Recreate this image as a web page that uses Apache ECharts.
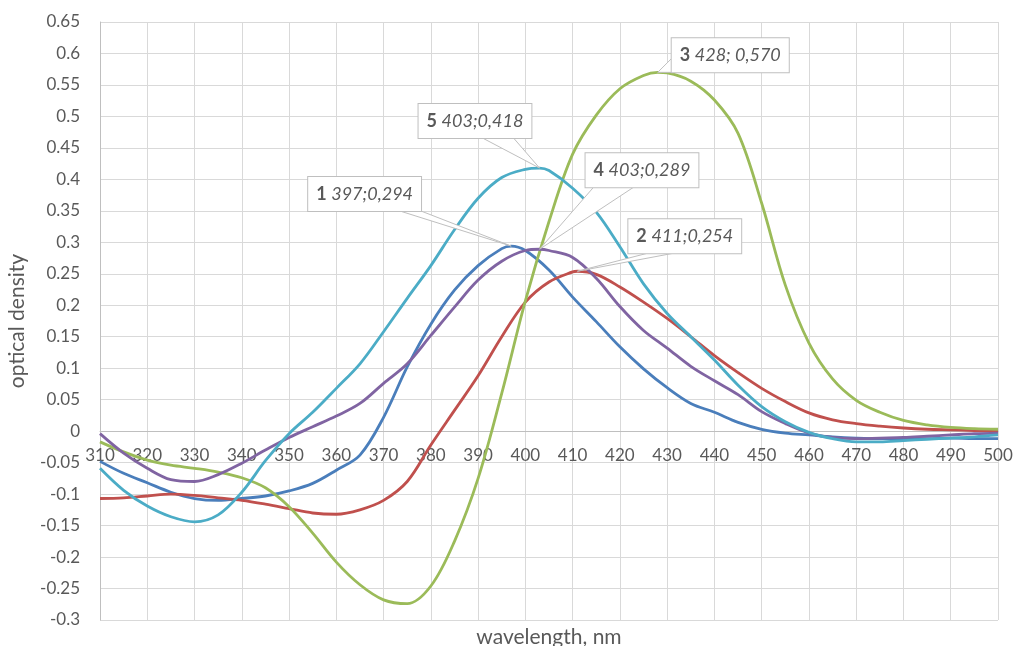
<!DOCTYPE html>
<html>
<head>
<meta charset="utf-8">
<script src="https://cdn.jsdelivr.net/npm/echarts@6/dist/echarts.min.js"></script>
<style>
  html, body { margin: 0; padding: 0; background: #fff; }
  #chart { width: 1013px; height: 646px; }
</style>
</head>
<body>
<div id="chart"></div>
<script>
// Wavelength grid (nm) shared by all spectra
const wavelengths = [310,315,320,325,330,335,340,345,350,355,360,365,370,375,380,385,390,395,400,405,410,415,420,425,430,435,440,445,450,455,460,465,470,475,480,485,490,495,500];

// Optical density spectra, one value per wavelength above
const spectrum1 = [-0.048,-0.067,-0.082,-0.097,-0.107,-0.110,-0.107,-0.103,-0.095,-0.083,-0.062,-0.038,0.022,0.102,0.170,0.224,0.263,0.290,0.287,0.256,0.213,0.174,0.134,0.099,0.069,0.044,0.030,0.014,0.003,-0.003,-0.006,-0.009,-0.011,-0.012,-0.012,-0.012,-0.011,-0.012,-0.012];
const spectrum2 = [-0.107,-0.106,-0.103,-0.100,-0.102,-0.106,-0.110,-0.116,-0.123,-0.130,-0.132,-0.125,-0.110,-0.080,-0.022,0.033,0.088,0.150,0.205,0.237,0.253,0.249,0.229,0.205,0.179,0.150,0.120,0.093,0.068,0.047,0.029,0.018,0.012,0.008,0.005,0.003,0.002,0.001,0.000];
const spectrum3 = [-0.017,-0.033,-0.046,-0.054,-0.059,-0.065,-0.074,-0.090,-0.120,-0.162,-0.208,-0.244,-0.268,-0.274,-0.246,-0.175,-0.075,0.060,0.207,0.333,0.440,0.502,0.544,0.565,0.569,0.556,0.526,0.473,0.362,0.232,0.140,0.083,0.049,0.030,0.017,0.010,0.006,0.004,0.003];
const spectrum4 = [-0.004,-0.035,-0.059,-0.077,-0.080,-0.069,-0.051,-0.030,-0.010,0.007,0.024,0.044,0.076,0.107,0.152,0.197,0.240,0.270,0.287,0.287,0.276,0.243,0.198,0.160,0.132,0.103,0.080,0.058,0.031,0.012,-0.003,-0.010,-0.012,-0.011,-0.010,-0.008,-0.006,-0.004,-0.003];
const spectrum5 = [-0.059,-0.094,-0.119,-0.136,-0.144,-0.133,-0.097,-0.047,-0.004,0.030,0.068,0.107,0.158,0.211,0.263,0.320,0.370,0.403,0.416,0.414,0.386,0.348,0.293,0.234,0.187,0.150,0.113,0.073,0.039,0.015,-0.002,-0.012,-0.017,-0.017,-0.015,-0.013,-0.011,-0.009,-0.006];

// Absorption maxima of each spectrum
const seriesIds = ['1', '2', '3', '4', '5'];
const peakNm = [397, 411, 428, 403, 403];
const peakOd = [0.294, 0.254, 0.570, 0.289, 0.418];
const peakSeparator = [';', ';', '; ', ';', ';'];

const spectra = [spectrum1, spectrum2, spectrum3, spectrum4, spectrum5];
const colors = ['#4a7ebb', '#c0504d', '#9bbb59', '#8064a2', '#4bacc6'];

// Callout placement: box top-left offset from the peak, wedge base points relative to box
const calloutLayout = [
  { dx: -203, dy: -69, base: [[92, 34], [113, 34]] },
  { dx: 51, dy: -52, base: [[19, 34], [45, 34]] },
  { dx: 14, dy: -34, base: [[0, 20], [10, 34]] },
  { dx: 46, dy: -96, base: [[8, 34], [48, 34]] },
  { dx: -121, dy: -64, base: [[64, 34], [95, 34]] }
];

function buildSeriesData(values, nmPeak, odPeak) {
  const pts = wavelengths.map((w, i) => [w, values[i]]);
  pts.push([nmPeak, odPeak]);
  pts.sort((a, b) => a[0] - b[0]);
  return pts;
}

function formatPeak(i) {
  return peakNm[i] + peakSeparator[i] + peakOd[i].toFixed(3).replace('.', ',');
}

const FONT = 'Lato, "Open Sans", sans-serif';

const lineSeries = spectra.map((vals, i) => ({
  name: seriesIds[i],
  type: 'line',
  data: buildSeriesData(vals, peakNm[i], peakOd[i]),
  smooth: 0.35,
  showSymbol: false,
  lineStyle: { color: colors[i], width: 2.8 },
  itemStyle: { color: colors[i] },
  z: 3
}));

const calloutSeries = {
  type: 'custom',
  coordinateSystem: 'cartesian2d',
  data: peakNm.map((nm, i) => [nm, peakOd[i], i]),
  encode: { x: 0, y: 1 },
  z: 10,
  silent: true,
  renderItem: function (params, api) {
    const idx = api.value(2);
    const p = api.coord([api.value(0), api.value(1)]);
    const lay = calloutLayout[idx];
    const bx = p[0] + lay.dx;
    const by = p[1] + lay.dy;
    return {
      type: 'group',
      children: [
        {
          type: 'polygon',
          shape: { points: [[bx + lay.base[0][0], by + lay.base[0][1]], [p[0], p[1]], [bx + lay.base[1][0], by + lay.base[1][1]]] },
          style: { fill: '#ffffff', stroke: '#bfbfbf', lineWidth: 1 }
        },
        {
          type: 'text',
          x: bx,
          y: by,
          style: {
            text: '{b|' + seriesIds[idx] + '} {i|' + formatPeak(idx) + '}',
            rich: {
              b: { fontWeight: 'bold', fontStyle: 'normal', fontSize: 18, fontFamily: FONT, fill: '#595959', lineHeight: 22 },
              i: { fontStyle: 'italic', fontSize: 18, fontFamily: FONT, fill: '#595959', lineHeight: 22 }
            },
            fontSize: 18,
            fontFamily: FONT,
            fill: '#595959',
            backgroundColor: '#ffffff',
            borderColor: '#bfbfbf',
            borderWidth: 1,
            padding: [6, 8, 6, 8],
            align: 'left',
            verticalAlign: 'top'
          }
        }
      ]
    };
  }
};

const gridBox = { left: 100, right: 15, top: 22, bottom: 26 };

const chart = echarts.init(document.getElementById('chart'), null, { renderer: 'canvas' });
chart.setOption({
  animation: false,
  backgroundColor: '#ffffff',
  grid: Object.assign({ containLabel: false, outerBoundsMode: 'none' }, gridBox),
  xAxis: {
    type: 'value',
    min: 310,
    max: 500,
    interval: 10,
    axisLine: { show: true, onZero: false, lineStyle: { color: '#bfbfbf', width: 1 } },
    axisTick: { show: false },
    axisLabel: { color: '#595959', fontSize: 17, fontFamily: FONT, margin: 16 },
    splitLine: { show: true, lineStyle: { color: '#d9d9d9', width: 1 } }
  },
  yAxis: {
    type: 'value',
    min: -0.3,
    max: 0.65,
    interval: 0.05,
    name: 'optical density',
    nameLocation: 'middle',
    nameGap: 72,
    nameTextStyle: { color: '#595959', fontSize: 21, fontFamily: FONT },
    axisLine: { show: true, lineStyle: { color: '#bfbfbf', width: 1 } },
    axisTick: { show: false },
    axisLabel: {
      color: '#595959', fontSize: 17, fontFamily: FONT, margin: 20,
      formatter: v => String(Math.round(v * 100) / 100)
    },
    splitLine: { show: true, lineStyle: { color: '#d9d9d9', width: 1 } }
  },
  graphic: [{
    type: 'text',
    x: 549,
    y: 637,
    style: { text: 'wavelength, nm', fontSize: 21, fontFamily: FONT, fill: '#595959', textAlign: 'center', textVerticalAlign: 'middle' }
  }],
  series: lineSeries.concat([calloutSeries])
});

// The wavelength axis crosses the density axis at zero: shift it up from the plot bottom
const zeroY = chart.convertToPixel({ yAxisIndex: 0 }, 0);
const bottomY = chart.getHeight() - gridBox.bottom;
chart.setOption({ xAxis: { offset: zeroY - bottomY } });
</script>
</body>
</html>
